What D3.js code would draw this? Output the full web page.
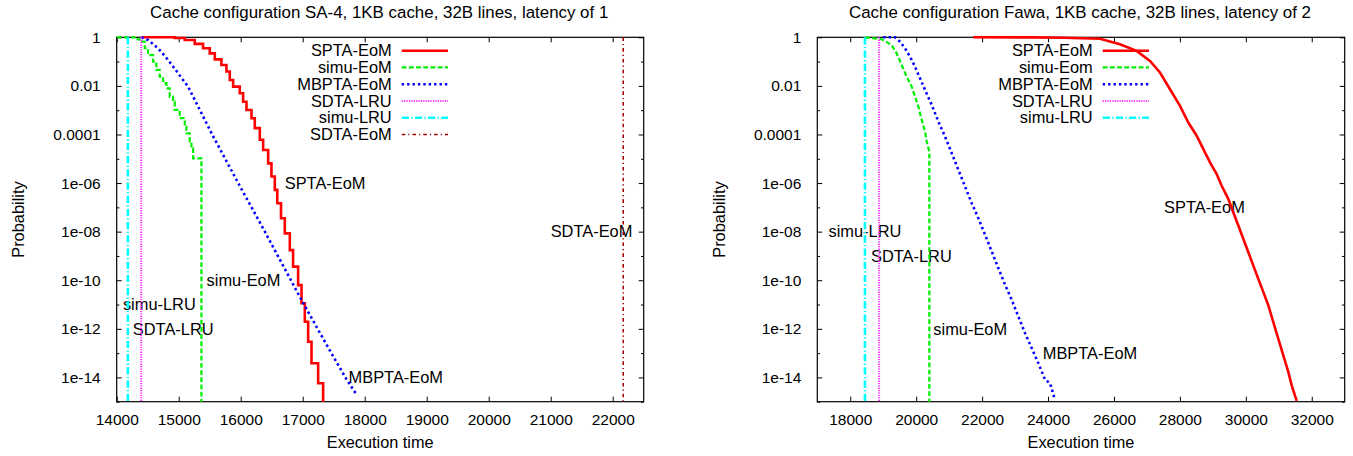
<!DOCTYPE html>
<html><head><meta charset="utf-8">
<script src="https://cdn.jsdelivr.net/npm/d3@7"></script>
<style>
html,body{margin:0;padding:0;background:#fff;}
svg{display:block;}
text{font-family:"Liberation Sans",Arial,Helvetica,sans-serif;fill:#000;}
</style></head><body>
<svg id="chart" width="1353" height="456"></svg>
<script>
// ---------- DATA (t = execution time, e = log10 of exceedance probability; null = probability 0) ----------
// Left panel: SA-4, 1KB cache, 32B lines, latency of 1
const leftSptaT = [14400,14936,15098,15259,15393,15501,15582,15689,15770,15824,15878,15985,16039,16093,16174,16227,16308,16362,16443,16496,16550,16590,16650,16711,16792,16845,16926,16981,17034,17088,17142,17249,17330];
const leftSptaE = [0,-0.03,-0.11,-0.27,-0.45,-0.66,-0.91,-1.14,-1.41,-1.76,-2.03,-2.30,-2.65,-2.99,-3.33,-3.74,-4.22,-4.64,-5.19,-5.73,-6.28,-6.83,-7.45,-8.07,-8.76,-9.44,-10.20,-10.95,-11.71,-12.53,-13.42,-14.24,null];
const leftSimuT = [14000,14290,14371,14452,14506,14586,14640,14694,14748,14802,14855,14909,14936,15017,15098,15124,15178,15205,15232,15367];
const leftSimuE = [0,-0.08,-0.18,-0.45,-0.73,-1.00,-1.34,-1.62,-1.89,-2.10,-2.44,-2.65,-2.99,-3.33,-3.68,-3.95,-4.29,-4.57,-4.98,null];
const leftMbptaT = [14398,14506,14667,14829,14990,15151,15540,15960,16390,16810,17000,17230,17450,17700,17856];
const leftMbptaE = [0,-0.11,-0.45,-0.93,-1.48,-2.03,-4.0,-6.0,-8.0,-10.0,-10.9,-11.95,-12.95,-14.05,-14.66];
const leftSdtaLruT = [14395,14395];
const leftSdtaLruE = [0,null];
const leftSimuLruT = [14180,14180];
const leftSimuLruE = [0,null];
const leftSdtaEomT = [22170,22170];
const leftSdtaEomE = [0,null];

// Right panel: Fawa, 1KB cache, 32B lines, latency of 2
const rightSptaT = [21730,23500,24500,25000,25575,26182,26688,27092,27396,27700,28003,28256,28509,28711,28913,29116,29267,29470,29622,29773,29925,30077,30228,30380,30532,30684,30836,30987,31139,31291,31392,31544];
const rightSptaE = [0,-0.003,-0.02,-0.04,-0.06,-0.29,-0.56,-0.97,-1.45,-2.14,-2.82,-3.51,-4.05,-4.60,-5.15,-5.63,-6.11,-6.66,-7.21,-7.75,-8.30,-8.85,-9.40,-9.95,-10.49,-11.04,-11.73,-12.41,-13.10,-13.78,-14.33,-14.97];
const rightSimuT = [18448,18954,19257,19409,19560,19712,19864,19965,20066,20168,20269,20319,20400,20400];
const rightSimuE = [0,-0.08,-0.32,-0.66,-1.14,-1.62,-2.03,-2.44,-2.85,-3.40,-3.88,-4.29,-4.71,null];
const rightMbptaT = [19000,19358,19510,19662,19813,19965,20117,20269,20471,20673,20876,21078,21280,21483,21685,21887,22090,22292,22494,22697,22899,23101,23304,23506,23708,23911,24063,24194];
const rightMbptaE = [0,0,-0.18,-0.45,-0.80,-1.21,-1.69,-2.17,-2.78,-3.47,-4.09,-4.77,-5.46,-6.15,-6.83,-7.45,-8.13,-8.82,-9.51,-10.19,-10.81,-11.50,-12.18,-12.80,-13.42,-14.10,-14.24,-14.86];
const rightSdtaLruT = [18875,18875];
const rightSdtaLruE = [0,null];
const rightSimuLruT = [18445,18445];
const rightSimuLruE = [0,null];

// Tick values / labels
const leftXTicks = [14000,15000,16000,17000,18000,19000,20000,21000,22000];
const rightXTicks = [18000,20000,22000,24000,26000,28000,30000,32000];
const yMajorTicks = [1,1e-2,1e-4,1e-6,1e-8,1e-10,1e-12,1e-14];
const yMajorLabels = ["1","0.01","0.0001","1e-06","1e-08","1e-10","1e-12","1e-14"];
const yMinorTicks = [1e-1,1e-3,1e-5,1e-7,1e-9,1e-11,1e-13,1e-15];

// In-plot labels: text, t, log10 p
const leftLabelText = ["SPTA-EoM","simu-EoM","simu-LRU","SDTA-LRU","MBPTA-EoM","SDTA-EoM"];
const leftLabelT = [16710,15450,14100,14260,17740,21000];
const leftLabelE = [-6,-10,-11,-12,-14,-8];
const rightLabelText = ["simu-LRU","SDTA-LRU","simu-EoM","MBPTA-EoM","SPTA-EoM"];
const rightLabelT = [17340,18630,20520,23840,27520];
const rightLabelE = [-8,-9,-12,-13,-7];

// ---------- STYLES ----------
const styles = {
  spta:    {color:"#ff0000", width:2.6, dash:null},
  simu:    {color:"#00ee00", width:2.2, dash:"4.8,2.4"},
  mbpta:   {color:"#0000ff", width:2.6, dash:"2.4,3"},
  sdtaLru: {color:"#ff33ff", width:2.0, dash:"1.2,1.2"},
  simuLru: {color:"#00ffff", width:2.6, dash:"7.2,2.4,1.2,2.4"},
  sdtaEom: {color:"#a00000", width:1.6, dash:"3.6,3,1.2,3"}
};

const svg = d3.select("#chart");
const Y0 = 37.3, Y1 = 401.7;
const y = d3.scaleLog().domain([1e-15,1]).range([Y1,Y0]);
const FLOOR = 1e-17;
const pOf = e => e === null ? FLOOR : Math.pow(10, e);

function makeSeries(name, T, E, style, curve){
  return {name, style, curve, pts: T.map((t,i)=>({t, p:pOf(E[i])}))};
}

function drawPanel(cfg){
  const x = d3.scaleLinear().domain(cfg.domain).range(cfg.range);
  const X0 = cfg.range[0], X1 = cfg.range[1];
  const g = svg.append("g");
  const clipId = "clip" + cfg.id;
  g.append("clipPath").attr("id", clipId).append("rect")
    .attr("x", X0).attr("y", Y0 - 3).attr("width", X1 - X0).attr("height", Y1 - Y0 + 3);

  const fixText = sel => sel.selectAll("text").attr("font-size", 15.5).attr("font-family", '"Liberation Sans",Arial,sans-serif').attr("fill","#000");
  const clean = sel => { sel.select(".domain").remove(); sel.selectAll("line").attr("stroke","#000").attr("stroke-width",1); };

  // bottom axis
  g.append("g").attr("transform", `translate(0,${Y1})`)
    .call(d3.axisBottom(x).tickValues(cfg.xTicks).tickFormat(d3.format("d")).tickSizeInner(-5).tickSizeOuter(0).tickPadding(12))
    .call(clean).call(fixText);
  // top mirror
  g.append("g").attr("transform", `translate(0,${Y0})`)
    .call(d3.axisTop(x).tickValues(cfg.xTicks).tickFormat("").tickSizeInner(-5).tickSizeOuter(0))
    .call(clean);
  // left axis
  g.append("g").attr("transform", `translate(${X0},0)`)
    .call(d3.axisLeft(y).tickValues(yMajorTicks).tickFormat((d,i)=>yMajorLabels[i]).tickSizeInner(-5).tickSizeOuter(0).tickPadding(16))
    .call(clean).call(fixText);
  g.append("g").attr("transform", `translate(${X0},0)`)
    .call(d3.axisLeft(y).tickValues(yMinorTicks).tickFormat("").tickSizeInner(-2.7).tickSizeOuter(0))
    .call(clean);
  // right mirror
  g.append("g").attr("transform", `translate(${X1},0)`)
    .call(d3.axisRight(y).tickValues(yMajorTicks).tickFormat("").tickSizeInner(-5).tickSizeOuter(0))
    .call(clean);
  g.append("g").attr("transform", `translate(${X1},0)`)
    .call(d3.axisRight(y).tickValues(yMinorTicks).tickFormat("").tickSizeInner(-2.7).tickSizeOuter(0))
    .call(clean);

  // frame
  g.append("rect").attr("x", X0).attr("y", Y0).attr("width", X1 - X0).attr("height", Y1 - Y0)
    .attr("fill","none").attr("stroke","#000").attr("stroke-width",1.2);

  // title & axis labels
  g.append("text").attr("x", (X0 + X1)/2 - 1).attr("y", 18).attr("text-anchor","middle")
    .attr("font-size", 16.9).text(cfg.title);
  g.append("text").attr("x", (X0 + X1)/2).attr("y", 448).attr("text-anchor","middle")
    .attr("font-size", 16.3).text("Execution time");
  g.append("text").attr("transform", `translate(${X0 - 98.5},${(Y0 + Y1)/2}) rotate(-90)`)
    .attr("text-anchor","middle").attr("dy","0.35em").attr("font-size", 16.4).text("Probability");

  // in-plot labels
  cfg.labels.text.forEach((txt,i)=>{
    g.append("text").attr("x", x(cfg.labels.t[i])).attr("y", y(Math.pow(10, cfg.labels.e[i])))
      .attr("dy","0.35em").attr("font-size", 16.4).text(txt);
  });

  // series + legend
  const lg = g.append("g").attr("clip-path", `url(#${clipId})`);
  cfg.series.forEach((s,i)=>{
    const line = d3.line().x(d=>x(d.t)).y(d=>y(d.p)).curve(s.curve);
    lg.append("path").datum(s.pts).attr("d", line)
      .attr("fill","none").attr("stroke", s.style.color).attr("stroke-width", s.style.width)
      .attr("stroke-dasharray", s.style.dash).attr("stroke-linejoin","miter");
    const ly = 50.7 + i*16.75;
    g.append("text").attr("x", X1 - 252).attr("y", ly).attr("dy","0.35em")
      .attr("text-anchor","end").attr("font-size", 16.4).text(s.legend);
    g.append("line").attr("x1", X1 - 242).attr("x2", X1 - 195.7).attr("y1", ly).attr("y2", ly)
      .attr("stroke", s.style.color).attr("stroke-width", s.style.width).attr("stroke-dasharray", s.style.dash);
  });
}

const step = d3.curveStepAfter, lin = d3.curveLinear;

const leftSeries = [
  Object.assign(makeSeries("spta", leftSptaT, leftSptaE, styles.spta, step), {legend:"SPTA-EoM"}),
  Object.assign(makeSeries("simu", leftSimuT, leftSimuE, styles.simu, step), {legend:"simu-EoM"}),
  Object.assign(makeSeries("mbpta", leftMbptaT, leftMbptaE, styles.mbpta, lin), {legend:"MBPTA-EoM"}),
  Object.assign(makeSeries("sdtaLru", leftSdtaLruT, leftSdtaLruE, styles.sdtaLru, lin), {legend:"SDTA-LRU"}),
  Object.assign(makeSeries("simuLru", leftSimuLruT, leftSimuLruE, styles.simuLru, lin), {legend:"simu-LRU"}),
  Object.assign(makeSeries("sdtaEom", leftSdtaEomT, leftSdtaEomE, styles.sdtaEom, lin), {legend:"SDTA-EoM"})
];
const rightSeries = [
  Object.assign(makeSeries("spta", rightSptaT, rightSptaE, styles.spta, lin), {legend:"SPTA-EoM"}),
  Object.assign(makeSeries("simu", rightSimuT, rightSimuE, styles.simu, lin), {legend:"simu-Eom"}),
  Object.assign(makeSeries("mbpta", rightMbptaT, rightMbptaE, styles.mbpta, lin), {legend:"MBPTA-EoM"}),
  Object.assign(makeSeries("sdtaLru", rightSdtaLruT, rightSdtaLruE, styles.sdtaLru, lin), {legend:"SDTA-LRU"}),
  Object.assign(makeSeries("simuLru", rightSimuLruT, rightSimuLruE, styles.simuLru, lin), {legend:"simu-LRU"})
];

drawPanel({id:"L", domain:[14000,22500], range:[116.7,643.7], xTicks:leftXTicks,
  title:"Cache configuration SA-4, 1KB cache, 32B lines, latency of 1",
  series:leftSeries, labels:{text:leftLabelText, t:leftLabelT, e:leftLabelE}});
drawPanel({id:"R", domain:[17000,33000], range:[817.3,1344.7], xTicks:rightXTicks,
  title:"Cache configuration Fawa, 1KB cache, 32B lines, latency of 2",
  series:rightSeries, labels:{text:rightLabelText, t:rightLabelT, e:rightLabelE}});
</script>
</body></html>
